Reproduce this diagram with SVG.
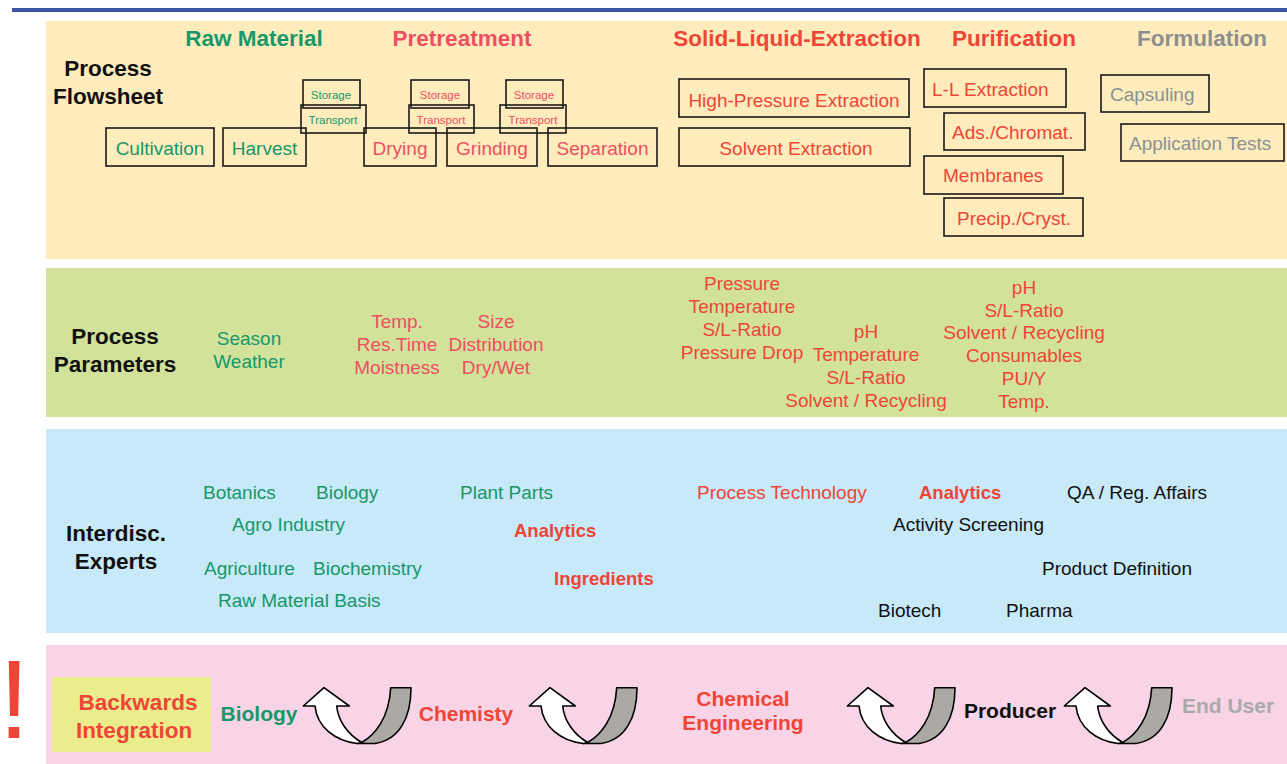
<svg xmlns="http://www.w3.org/2000/svg" width="1287" height="764" viewBox="0 0 1287 764">
<style>
text{font-family:"Liberation Sans",Arial,Helvetica,sans-serif;}
.h{font-size:22.5px;font-weight:bold;}
.t{font-size:19px;}
.s{font-size:11.5px;}
.b{font-size:18.5px;font-weight:bold;}
.bb{font-size:21px;font-weight:bold;}
.m{text-anchor:middle;}
.g{fill:#18976a;}
.p{fill:#ee4f62;}
.r{fill:#ef4537;}
.k{fill:#111111;}
.gr{fill:#8e8e8e;}
.gl{fill:#8b9195;}
.eu{fill:#a9a9a9;}
.box{fill:none;stroke:#1a1a1a;stroke-width:1.6;}
.aw{fill:#ffffff;stroke:#000;stroke-width:1.6;stroke-linejoin:round;}
.ag{fill:#aba8a6;stroke:#000;stroke-width:1.6;stroke-linejoin:round;}
</style>
<defs>
<g id="uarrow">
<path class="ag" d="M66.7,62.5 C80,55 94,38 95.7,7.7 L116,7.7 C116,38 104,60 80,63.5 L62,63.5 Z"/>
<path class="aw" d="M29,7.7 L54.3,26 L41.7,26 C43,40 52,54 66.7,62.5 L62,63.5 C40,61 22,47 20,26 L8.3,26 Z"/>
</g>
</defs>
<rect width="1287" height="764" fill="#ffffff"/>
<rect x="12" y="8" width="1275" height="4" fill="#3d55a5"/>
<g id="bands">
<rect x="46" y="21" width="1241" height="238" fill="#feecbc"/>
<rect x="46" y="268" width="1241" height="149" fill="#d2e29b"/>
<rect x="46" y="429" width="1241" height="204" fill="#c7e9f8"/>
<rect x="46" y="645" width="1241" height="119" fill="#f8d4e6"/>
</g>
<g id="flowsheet-headings">
<text class="h k m" x="108" y="76">Process</text>
<text class="h k m" x="108" y="104">Flowsheet</text>
<text class="h g m" x="254" y="46">Raw Material</text>
<text class="h p m" x="462" y="46">Pretreatment</text>
<text class="h r m" x="797" y="46">Solid-Liquid-Extraction</text>
<text class="h r m" x="1014" y="46">Purification</text>
<text class="h gr m" x="1202" y="46">Formulation</text>
</g>
<g id="n-cultivation"><rect class="box" x="106" y="128" width="108" height="38"/><text class="t g m" x="160" y="155">Cultivation</text></g>
<g id="n-harvest"><rect class="box" x="223" y="128" width="83" height="38"/><text class="t g m" x="264.5" y="155">Harvest</text></g>
<g id="n-drying"><rect class="box" x="364" y="128" width="72" height="38"/><text class="t p m" x="400" y="155">Drying</text></g>
<g id="n-grinding"><rect class="box" x="447" y="128" width="90" height="38"/><text class="t p m" x="492" y="155">Grinding</text></g>
<g id="n-separation"><rect class="box" x="548" y="128" width="109" height="38"/><text class="t p m" x="602.5" y="155">Separation</text></g>
<g id="n-storage1"><rect class="box" x="303" y="80" width="57" height="28"/><text class="s g m" x="331" y="99">Storage</text></g>
<g id="n-transport1"><rect class="box" x="301" y="105" width="65" height="28"/><text class="s g m" x="333" y="124">Transport</text></g>
<g id="n-storage2"><rect class="box" x="411" y="80" width="58" height="28"/><text class="s p m" x="440" y="99">Storage</text></g>
<g id="n-transport2"><rect class="box" x="409" y="105" width="65" height="28"/><text class="s p m" x="441" y="124">Transport</text></g>
<g id="n-storage3"><rect class="box" x="506" y="80" width="57" height="28"/><text class="s p m" x="534" y="99">Storage</text></g>
<g id="n-transport3"><rect class="box" x="500" y="105" width="66" height="28"/><text class="s p m" x="533" y="124">Transport</text></g>
<g id="n-hpe"><rect class="box" x="679" y="79" width="230" height="38"/><text class="t r m" x="794" y="107">High-Pressure Extraction</text></g>
<g id="n-se"><rect class="box" x="679" y="128" width="231" height="38"/><text class="t r m" x="796" y="155">Solvent Extraction</text></g>
<g id="n-ll"><rect class="box" x="924" y="69" width="142" height="38"/><text class="t r" x="932" y="96">L-L Extraction</text></g>
<g id="n-ads"><rect class="box" x="944" y="113" width="141" height="37"/><text class="t r" x="952" y="139">Ads./Chromat.</text></g>
<g id="n-mem"><rect class="box" x="924" y="156" width="139" height="38"/><text class="t r" x="943" y="182">Membranes</text></g>
<g id="n-prec"><rect class="box" x="944" y="198" width="139" height="38"/><text class="t r" x="957" y="225">Precip./Cryst.</text></g>
<g id="n-caps"><rect class="box" x="1101" y="75" width="108" height="37"/><text class="t gl" x="1110" y="101">Capsuling</text></g>
<g id="n-app"><rect class="box" x="1121" y="124" width="163" height="37"/><text class="t gl" x="1129" y="150">Application Tests</text></g>
<g id="parameters">
<text class="h k m" x="115" y="344">Process</text>
<text class="h k m" x="115" y="372">Parameters</text>
<text class="t g m" x="249" y="345">Season</text>
<text class="t g m" x="249" y="368">Weather</text>
<text class="t p m" x="397" y="328">Temp.</text>
<text class="t p m" x="397" y="351">Res.Time</text>
<text class="t p m" x="397" y="374">Moistness</text>
<text class="t p m" x="496" y="328">Size</text>
<text class="t p m" x="496" y="351">Distribution</text>
<text class="t p m" x="496" y="374">Dry/Wet</text>
<text class="t r m" x="742" y="290">Pressure</text>
<text class="t r m" x="742" y="313">Temperature</text>
<text class="t r m" x="742" y="336">S/L-Ratio</text>
<text class="t r m" x="742" y="359">Pressure Drop</text>
<text class="t r m" x="866" y="338">pH</text>
<text class="t r m" x="866" y="361">Temperature</text>
<text class="t r m" x="866" y="384">S/L-Ratio</text>
<text class="t r m" x="866" y="407">Solvent / Recycling</text>
<text class="t r m" x="1024" y="294">pH</text>
<text class="t r m" x="1024" y="317">S/L-Ratio</text>
<text class="t r m" x="1024" y="339">Solvent / Recycling</text>
<text class="t r m" x="1024" y="362">Consumables</text>
<text class="t r m" x="1024" y="385">PU/Y</text>
<text class="t r m" x="1024" y="408">Temp.</text>
</g>
<g id="experts">
<text class="h k m" x="116" y="541">Interdisc.</text>
<text class="h k m" x="116" y="569">Experts</text>
<text class="t g" x="203" y="499">Botanics</text>
<text class="t g" x="316" y="499">Biology</text>
<text class="t g" x="460" y="499">Plant Parts</text>
<text class="t g" x="232" y="531">Agro Industry</text>
<text class="b r" x="514" y="537">Analytics</text>
<text class="t g" x="204" y="575">Agriculture</text>
<text class="t g" x="313" y="575">Biochemistry</text>
<text class="t g" x="218" y="607">Raw Material Basis</text>
<text class="b r" x="554" y="585">Ingredients</text>
<text class="t r" x="697" y="499">Process Technology</text>
<text class="b r" x="919" y="499">Analytics</text>
<text class="t k" x="1067" y="499">QA / Reg. Affairs</text>
<text class="t k" x="893" y="531">Activity Screening</text>
<text class="t k" x="1042" y="575">Product Definition</text>
<text class="t k" x="878" y="617">Biotech</text>
<text class="t k" x="1006" y="617">Pharma</text>
</g>
<g id="integration">
<text class="r m" x="14" y="738" style="font-size:112px">!</text>
<rect x="52" y="677" width="159" height="75" fill="#ebec8b"/>
<text class="r m" x="138" y="710" style="font-size:22.5px;font-weight:bold">Backwards</text>
<text class="r m" x="134" y="738" style="font-size:22.5px;font-weight:bold">Integration</text>
<text class="bb g m" x="259" y="721">Biology</text>
<text class="bb r m" x="466" y="721">Chemisty</text>
<text class="bb r m" x="743" y="706">Chemical</text>
<text class="bb r m" x="743" y="730">Engineering</text>
<text class="bb k m" x="1010" y="718">Producer</text>
<text class="bb eu m" x="1228" y="713">End User</text>
</g>
<g id="connectors">
<use href="#uarrow" x="295" y="680"/>
<use href="#uarrow" x="521" y="680"/>
<use href="#uarrow" x="839" y="680"/>
<use href="#uarrow" x="1056" y="680"/>
</g>
</svg>
